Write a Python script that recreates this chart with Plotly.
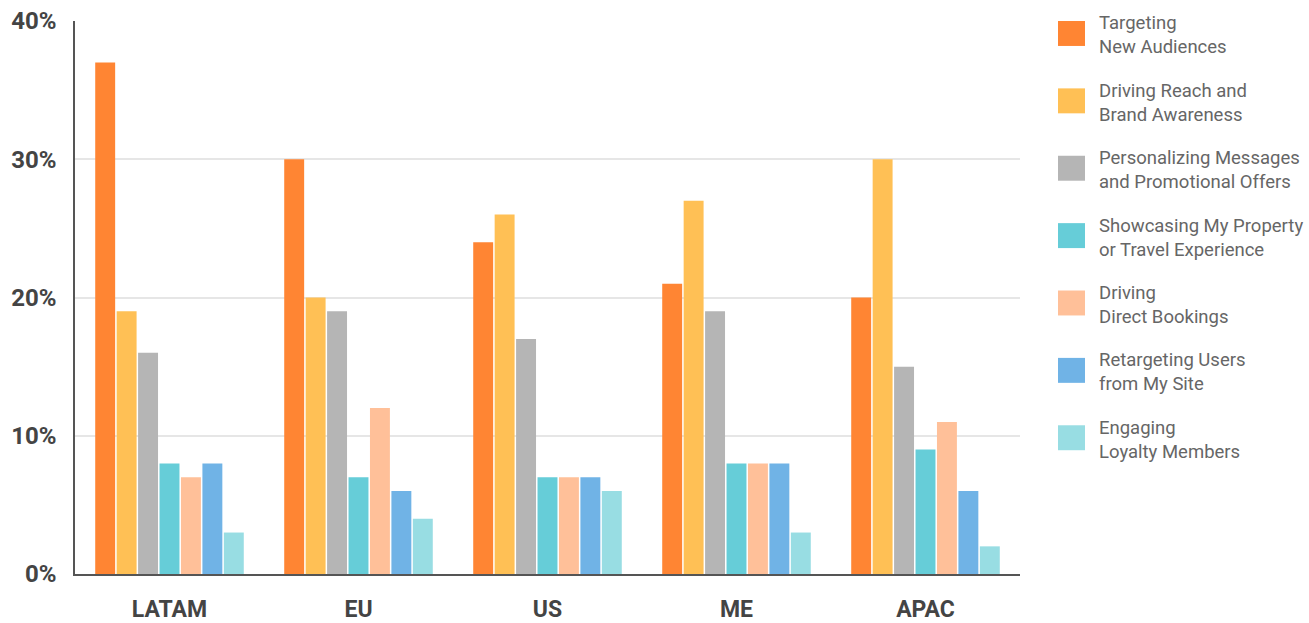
import plotly.graph_objects as go

regions = ["LATAM", "EU", "US", "ME", "APAC"]
series_names = [
    "Targeting<br>New Audiences",
    "Driving Reach and<br>Brand Awareness",
    "Personalizing Messages<br>and Promotional Offers",
    "Showcasing My Property<br>or Travel Experience",
    "Driving<br>Direct Bookings",
    "Retargeting Users<br>from My Site",
    "Engaging<br>Loyalty Members",
]
targeting = [37, 30, 24, 21, 20]
reach = [19, 20, 26, 27, 30]
personalizing = [16, 19, 17, 19, 15]
showcasing = [8, 7, 7, 8, 9]
bookings = [7, 12, 7, 8, 11]
retargeting = [8, 6, 7, 8, 6]
loyalty = [3, 4, 6, 3, 2]
colors = ["#FF8533", "#FFC055", "#B5B5B5", "#66CDD8", "#FFC099", "#70B3E6", "#98DDE3"]
y_ticks = [0, 10, 20, 30, 40]
y_tick_labels = ["0%", "10%", "20%", "30%", "40%"]

all_series = [targeting, reach, personalizing, showcasing, bookings, retargeting, loyalty]

fig = go.Figure()
for name, vals, col in zip(series_names, all_series, colors):
    fig.add_trace(go.Bar(x=regions, y=vals, name=name.replace("<br>", " "),
                         marker=dict(color=col, line=dict(width=0)), showlegend=False))

# manual legend with large squares
H = 623
T, B = 20.5, 48.5
plot_h = H - T - B
L = 75
plot_w = 945
step = 67.5
for i, (name, col) in enumerate(zip(series_names, colors)):
    yc_px = 33 + i * step  # px from top of page
    y0 = (H - B - (yc_px + 12.5)) / plot_h
    y1 = (H - B - (yc_px - 12.5)) / plot_h
    fig.add_shape(type="rect", xref="paper", yref="paper",
                  x0=(1058 - L) / plot_w, x1=(1085 - L) / plot_w, y0=y0, y1=y1,
                  fillcolor=col, line=dict(width=0))
    fig.add_annotation(xref="paper", yref="paper", x=(1097 - L) / plot_w,
                       y=(H - B - yc_px - 2) / plot_h, text=name, showarrow=False,
                       xanchor="left", yanchor="middle", align="left",
                       font=dict(family="Roboto", size=18.5, color="#666666"))

fig.update_layout(
    width=1309, height=623,
    margin=dict(l=L, r=1309 - L - plot_w, t=T, b=B, autoexpand=False),
    paper_bgcolor="white", plot_bgcolor="white",
    barmode="group", bargap=0.206, bargroupgap=0.07,
    font=dict(family="Roboto", color="#444444"),
)
fig.update_yaxes(range=[0, 40], tickvals=y_ticks, ticktext=y_tick_labels,
                 showgrid=True, gridcolor="#E6E6E6", gridwidth=1.5,
                 showline=True, linecolor="#555555", linewidth=1.5,
                 zeroline=False, ticklabelstandoff=12, automargin=False,
                 tickfont=dict(family="Roboto", size=24, color="#444444", weight="bold"))
fig.update_xaxes(showline=True, linecolor="#555555", linewidth=2,
                 ticklabelstandoff=13, automargin=False,
                 tickfont=dict(family="Roboto", size=23, color="#444444", weight="bold"))

fig.write_html("out.html")
